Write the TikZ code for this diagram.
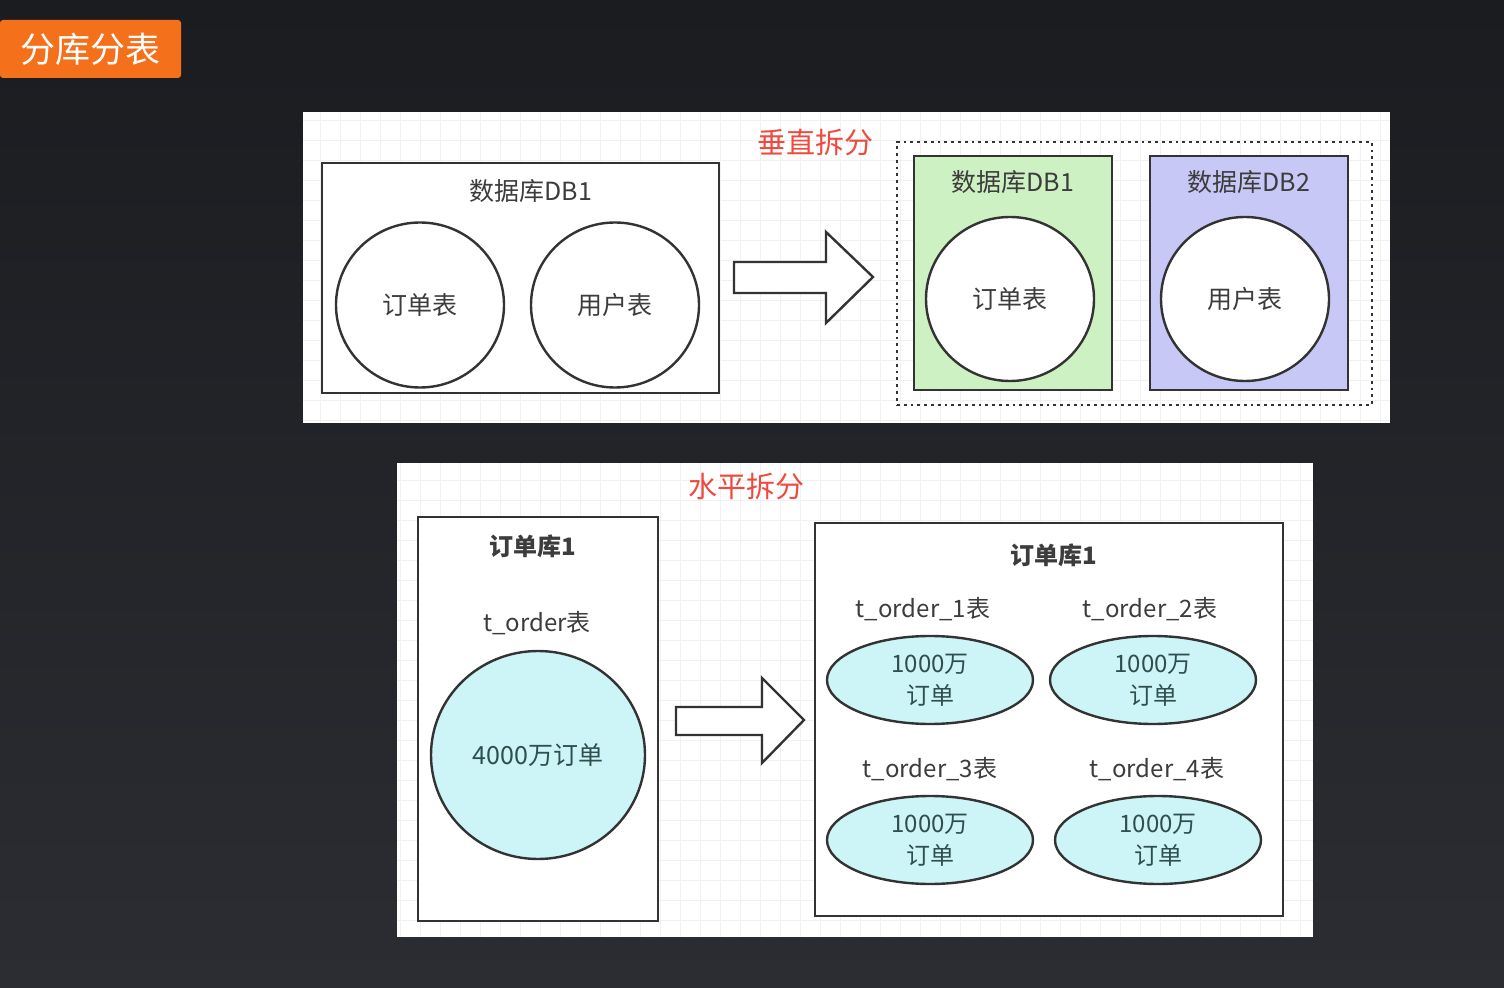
\documentclass[tikz,border=0pt]{standalone}
\usepackage{fontspec}
\setmainfont{Noto Sans CJK SC}
\usetikzlibrary{shapes.geometric}
\definecolor{bgtop}{HTML}{1B1C20}
\definecolor{bgbot}{HTML}{2C2D32}
\definecolor{orng}{HTML}{F5701A}
\definecolor{ink}{HTML}{333333}
\definecolor{txt}{HTML}{3C3C3C}
\definecolor{redt}{HTML}{EE4A3D}
\definecolor{gridc}{HTML}{F1F1F1}
\definecolor{greenf}{HTML}{CDF1C2}
\definecolor{purpf}{HTML}{C7C8F6}
\definecolor{cyanf}{HTML}{CDF4F6}
\definecolor{cyant}{HTML}{2F4F4F}
\tikzset{
  panel/.style={fill=white, draw=none, rectangle, inner sep=0pt},
  dbbox/.style={draw=ink, line width=1.2pt, rectangle, inner sep=0pt},
  tab/.style={draw=ink, line width=1.2pt, ellipse, inner sep=0pt, fill=white, font=\fontsize{12.5}{14}\selectfont, text=txt},
  lbl/.style={font=\fontsize{12.5}{14}\selectfont, text=txt, inner sep=0pt},
  blbl/.style={font=\bfseries\fontsize{12}{14}\selectfont, text=txt, inner sep=0pt},
  redlbl/.style={font=\fontsize{14.5}{16}\selectfont, text=redt, inner sep=0pt},
  small/.style={draw=ink, line width=1.2pt, ellipse, inner sep=0pt, fill=cyanf, align=center,
    minimum width=103pt, minimum height=44pt, font=\fontsize{12}{16}\selectfont, text=cyant},
  blockarrow/.style={draw=ink, line width=1.2pt, fill=white, line join=miter},
}
\begin{document}
\begin{tikzpicture}[x=0.5pt,y=-0.5pt]
\shade[top color=bgtop, bottom color=bgbot] (0,0) rectangle (1504,988);
\useasboundingbox (0,0) rectangle (1504,988);
% title
\node[fill=orng, rectangle, rounded corners=1.5pt, minimum width=90.5pt, minimum height=29pt, inner sep=0pt,
  text=white, font=\fontsize{17.5}{20}\selectfont] (title) at (90.5,49) {分库分表};
% ===== top panel =====
\node[panel, minimum width=543.5pt, minimum height=155.5pt] (toppanel) at (846.5,267.5) {};
\begin{scope}
\clip (303,112) rectangle (1390,423);
\draw[gridc, line width=0.4pt] (303,112) grid[step=10pt] (1390,423);
\end{scope}
\node[dbbox, fill=white, minimum width=198.5pt, minimum height=115pt] (db1) at (520.5,278) {};
\node[lbl] (db1l) at (531,191) {数据库DB1};
\node[tab, minimum width=84pt, minimum height=82.5pt] (c1) at (420,305) {订单表};
\node[tab, minimum width=84pt, minimum height=82.5pt] (c2) at (615,305) {用户表};
% arrow
\draw[blockarrow] (734,262) -- (826,262) -- (826,232) -- (873,277) -- (826,323) -- (826,293) -- (734,293) -- cycle;
\node[redlbl] (vert) at (815,143) {垂直拆分};
% dotted group
\node[draw=ink, line width=1.4pt, dotted, rectangle, minimum width=237.5pt, minimum height=131.5pt, inner sep=0pt] (grp) at (1134.5,273.5) {};
\node[dbbox, fill=greenf, minimum width=99pt, minimum height=117pt] (g1) at (1013,273) {};
\node[lbl] (g1l) at (1013,182) {数据库DB1};
\node[tab, minimum width=84pt, minimum height=82pt] (e1) at (1010,299) {订单表};
\node[dbbox, fill=purpf, minimum width=99pt, minimum height=117pt] (p1) at (1249,273) {};
\node[lbl] (p1l) at (1249,182) {数据库DB2};
\node[tab, minimum width=84pt, minimum height=82pt] (e2) at (1245,299) {用户表};
% ===== bottom panel =====
\node[panel, minimum width=458pt, minimum height=237pt] (botpanel) at (855,700) {};
\begin{scope}
\clip (397,463) rectangle (1313,937);
\draw[gridc, line width=0.4pt] (397,463) grid[step=10pt] (1313,937);
\end{scope}
\node[redlbl] (horiz) at (746,487) {水平拆分};
\node[dbbox, fill=white, minimum width=120pt, minimum height=202pt] (lb) at (538,719) {};
\node[blbl] (lbl1) at (533,546) {订单库1};
\node[lbl, font=\fontsize{12}{14}\selectfont] (tord) at (537,623) {t\_order表};
\node[tab, fill=cyanf, text=cyant, minimum width=107pt, minimum height=104pt, font=\fontsize{12.5}{14}\selectfont] (big) at (538,755) {4000万订单};
\draw[blockarrow] (676,707) -- (762,707) -- (762,678) -- (804,720) -- (762,763) -- (762,735) -- (676,735) -- cycle;
\node[dbbox, fill=white, minimum width=234pt, minimum height=196.5pt] (rb) at (1049,719.5) {};
\node[blbl] (rbl) at (1054,555) {订单库1};
\node[lbl, font=\fontsize{12}{14}\selectfont] (t1) at (923,609) {t\_order\_1表};
\node[lbl, font=\fontsize{12}{14}\selectfont] (t2) at (1150,609) {t\_order\_2表};
\node[lbl, font=\fontsize{12}{14}\selectfont] (t3) at (930,769) {t\_order\_3表};
\node[lbl, font=\fontsize{12}{14}\selectfont] (t4) at (1157,769) {t\_order\_4表};
\node[small] (s1) at (930,680) {1000万\\订单};
\node[small] (s2) at (1153,680) {1000万\\订单};
\node[small] (s3) at (930,840) {1000万\\订单};
\node[small] (s4) at (1158,840) {1000万\\订单};
\end{tikzpicture}
\end{document}
